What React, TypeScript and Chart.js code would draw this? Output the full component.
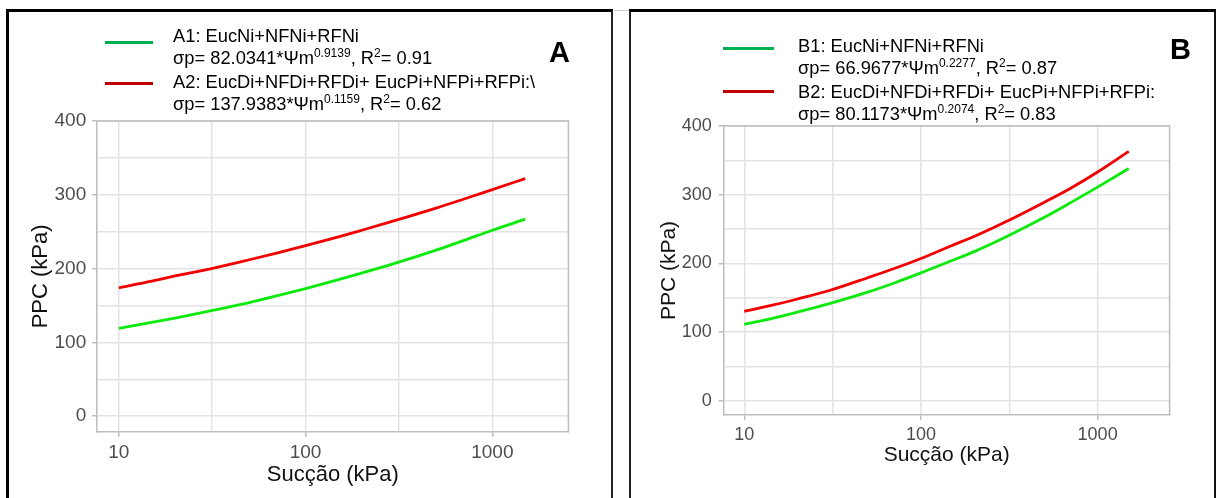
import React, { useEffect, useRef } from 'react';
import { Chart, registerables } from 'chart.js';

Chart.register(...registerables);

// Suction values (kPa) where the fitted curves are sampled
const suction = [10, 15, 20, 30, 50, 70, 100, 150, 200, 300, 500, 700, 1000, 1500];

// Panel A: pre-consolidation pressure (kPa)
const ppcA1 = [119, 127, 133, 142, 154, 163, 173, 185, 194, 207, 225, 238, 252, 267];
const ppcA2 = [174, 183, 190, 199, 212, 221, 231, 243, 252, 265, 282, 294, 307, 322];

// Panel B: pre-consolidation pressure (kPa)
const ppcB1 = [111, 121, 129, 141, 158, 171, 186, 204, 217, 238, 267, 288, 311, 338];
const ppcB2 = [130, 140, 148, 160, 179, 192, 207, 226, 239, 260, 289, 309, 333, 363];

// Axis breaks
const yBreaks = [0, 50, 100, 150, 200, 250, 300, 350, 400];
const yLabeled = [0, 100, 200, 300, 400];
const xBreaks = [10, 31.6228, 100, 316.228, 1000];
const xLabeled = [10, 100, 1000];

const xLimits = [7.66, 2555];
const yLimits = [-21, 400];

const legendA = {
  letter: 'A',
  rows: [
    { id: 'A1', name: 'EucNi+NFNi+RFNi', coef: '82.0341', exp: '0.9139', r2: '0.91' },
    { id: 'A2', name: 'EucDi+NFDi+RFDi+ EucPi+NFPi+RFPi:\\', coef: '137.9383', exp: '0.1159', r2: '0.62' },
  ],
};
const legendB = {
  letter: 'B',
  rows: [
    { id: 'B1', name: 'EucNi+NFNi+RFNi', coef: '66.9677', exp: '0.2277', r2: '0.87' },
    { id: 'B2', name: 'EucDi+NFDi+RFDi+ EucPi+NFPi+RFPi:', coef: '80.1173', exp: '0.2074', r2: '0.83' },
  ],
};

const FONT = "'Liberation Sans', Arial, Helvetica, sans-serif";
const LINE_GREEN = '#0BEA0B';
const LINE_RED = '#F20000';
const KEY_GREEN = '#00B050';
const KEY_RED = '#C00000';
const GRID = '#E3E3E3';
const AXIS = '#BDBDBD';
const TICK_TEXT = '#4D4D4D';

// Draws the top and right edges of the plotting panel
const panelFrame = {
  id: 'panelFrame',
  beforeDatasetsDraw(chart: any) {
    const { ctx, chartArea } = chart;
    const { left, top, right, bottom } = chartArea;
    ctx.save();
    ctx.strokeStyle = AXIS;
    ctx.lineWidth = 1.5;
    ctx.beginPath();
    ctx.moveTo(left, top);
    ctx.lineTo(right, top);
    ctx.lineTo(right, bottom);
    ctx.stroke();
    ctx.restore();
  },
};

type Geometry = {
  left: number;
  top: number;
  width: number;
  height: number;
  padTop: number;
  padRight: number;
  yAxisWidth: number;
  xAxisHeight: number;
  tickSize: number;
  titleSize: number;
  yTickPad: number;
  xTickPad: number;
  yTitlePad: number;
  xTitlePad: number;
};

function PlotCanvas({ geo, green, red, labels }: { geo: Geometry; green: number[]; red: number[]; labels: string[] }) {
  const ref = useRef<HTMLCanvasElement | null>(null);

  useEffect(() => {
    if (!ref.current) return;
    const tickFont = { family: FONT, size: geo.tickSize };
    const titleFont = { family: FONT, size: geo.titleSize };
    const chart = new Chart(ref.current, {
      type: 'line',
      data: {
        datasets: [
          {
            label: labels[0],
            data: suction.map((x, i) => ({ x, y: green[i] })),
            borderColor: LINE_GREEN,
            borderWidth: 2.8,
            pointRadius: 0,
            cubicInterpolationMode: 'monotone',
          },
          {
            label: labels[1],
            data: suction.map((x, i) => ({ x, y: red[i] })),
            borderColor: LINE_RED,
            borderWidth: 2.8,
            pointRadius: 0,
            cubicInterpolationMode: 'monotone',
          },
        ],
      },
      options: {
        animation: false,
        responsive: false,
        maintainAspectRatio: false,
        devicePixelRatio: 1,
        layout: { padding: { top: geo.padTop, right: geo.padRight, left: 0, bottom: 0 } },
        plugins: {
          legend: { display: false },
          tooltip: { enabled: false },
        },
        scales: {
          x: {
            type: 'logarithmic',
            min: xLimits[0],
            max: xLimits[1],
            afterBuildTicks: (axis: any) => {
              axis.ticks = xBreaks.map((v) => ({ value: v }));
            },
            afterFit: (axis: any) => {
              axis.height = geo.xAxisHeight;
            },
            ticks: {
              autoSkip: false,
              maxRotation: 0,
              minRotation: 0,
              padding: geo.xTickPad,
              color: TICK_TEXT,
              font: tickFont,
              callback: (v: any) => (xLabeled.includes(Number(v)) ? String(v) : ''),
            },
            grid: {
              color: GRID,
              lineWidth: 1.5,
              tickLength: 5,
              tickColor: (c: any) => (c.tick && xLabeled.includes(c.tick.value) ? AXIS : 'rgba(0,0,0,0)'),
            },
            border: { display: true, color: AXIS, width: 1.5 },
            title: {
              display: true,
              text: 'Sucção (kPa)',
              color: '#111',
              font: titleFont,
              padding: { top: 0, bottom: geo.xTitlePad },
            },
          },
          y: {
            type: 'linear',
            min: yLimits[0],
            max: yLimits[1],
            afterBuildTicks: (axis: any) => {
              axis.ticks = yBreaks.map((v) => ({ value: v }));
            },
            afterFit: (axis: any) => {
              axis.width = geo.yAxisWidth;
            },
            ticks: {
              autoSkip: false,
              padding: geo.yTickPad,
              color: TICK_TEXT,
              font: tickFont,
              callback: (v: any) => (yLabeled.includes(Number(v)) ? String(v) : ''),
            },
            grid: {
              color: GRID,
              lineWidth: 1.5,
              tickLength: 5,
              tickColor: (c: any) => (c.tick && yLabeled.includes(c.tick.value) ? AXIS : 'rgba(0,0,0,0)'),
            },
            border: { display: true, color: AXIS, width: 1.5 },
            title: {
              display: true,
              text: 'PPC (kPa)',
              color: '#111',
              font: titleFont,
              padding: { top: geo.yTitlePad, bottom: 0 },
            },
          },
        },
      },
      plugins: [panelFrame],
    } as any);
    return () => chart.destroy();
  }, []);

  return (
    <canvas
      ref={ref}
      width={geo.width}
      height={geo.height}
      style={{ position: 'absolute', left: geo.left, top: geo.top, width: geo.width, height: geo.height }}
    />
  );
}

type LegendRow = { id: string; name: string; coef: string; exp: string; r2: string };

function Sup({ children }: { children: React.ReactNode }) {
  return <span style={{ fontSize: 12, position: 'relative', top: -7 }}>{children}</span>;
}

function Legend({
  rows,
  textLeft,
  textTop,
  keyLeft,
  keyWidth,
  keyTops,
}: {
  rows: LegendRow[];
  textLeft: number;
  textTop: number;
  keyLeft: number;
  keyWidth: number;
  keyTops: number[];
}) {
  const keyColors = [KEY_GREEN, KEY_RED];
  return (
    <>
      {keyTops.map((t, i) => (
        <div
          key={i}
          style={{ position: 'absolute', left: keyLeft, top: t, width: keyWidth, height: 3, background: keyColors[i] }}
        />
      ))}
      <div
        style={{
          position: 'absolute',
          left: textLeft,
          top: textTop,
          fontFamily: FONT,
          fontSize: 18.3,
          lineHeight: '22.3px',
          color: '#000',
          whiteSpace: 'nowrap',
        }}
      >
        {rows.map((r) => (
          <React.Fragment key={r.id}>
            <div>
              {r.id}: {r.name}
            </div>
            <div>
              σp= {r.coef}*Ψm<Sup>{r.exp}</Sup>, R<Sup>2</Sup>= {r.r2}
            </div>
          </React.Fragment>
        ))}
      </div>
    </>
  );
}

const geoA: Geometry = {
  left: 9,
  top: 96,
  width: 600,
  height: 402,
  padTop: 25,
  padRight: 40.6,
  yAxisWidth: 88.2,
  xAxisHeight: 66.3,
  tickSize: 19,
  titleSize: 22,
  yTickPad: 6,
  xTickPad: 4.3,
  yTitlePad: 19,
  xTitlePad: 9.4,
};

const geoB: Geometry = {
  left: 631,
  top: 96,
  width: 582,
  height: 402,
  padTop: 30,
  padRight: 43.4,
  yAxisWidth: 92.8,
  xAxisHeight: 83,
  tickSize: 18,
  titleSize: 21,
  yTickPad: 7,
  xTickPad: 4.5,
  yTitlePad: 26,
  xTitlePad: 29.7,
};

export default function App() {
  return (
    <div
      style={{
        position: 'fixed',
        left: 0,
        top: 0,
        width: 1219,
        height: 498,
        overflow: 'hidden',
        background: '#fff',
      }}
    >
      {/* panel frames */}
      <div
        style={{
          position: 'absolute',
          left: 6,
          top: 9,
          width: 602,
          height: 520,
          borderLeft: '3px solid #000',
          borderTop: '3px solid #000',
          borderRight: '2px solid #222',
        }}
      />
      <div style={{ position: 'absolute', left: 614, top: 10, width: 15, height: 1, background: '#CCCCCC' }} />
      <div
        style={{
          position: 'absolute',
          left: 629,
          top: 9,
          width: 583,
          height: 520,
          borderLeft: '2px solid #222',
          borderTop: '3px solid #000',
          borderRight: '2px solid #111',
        }}
      />

      <PlotCanvas geo={geoA} green={ppcA1} red={ppcA2} labels={['A1', 'A2']} />
      <PlotCanvas geo={geoB} green={ppcB1} red={ppcB2} labels={['B1', 'B2']} />

      <Legend rows={legendA.rows} textLeft={173} textTop={24.5} keyLeft={105} keyWidth={48} keyTops={[40.5, 82]} />
      <Legend rows={legendB.rows} textLeft={798} textTop={34.5} keyLeft={723} keyWidth={51} keyTops={[46.5, 89.5]} />

      <div
        style={{
          position: 'absolute',
          left: 549,
          top: 38,
          fontFamily: FONT,
          fontWeight: 'bold',
          fontSize: 29,
          lineHeight: '29px',
          color: '#000',
        }}
      >
        {legendA.letter}
      </div>
      <div
        style={{
          position: 'absolute',
          left: 1170,
          top: 35,
          fontFamily: FONT,
          fontWeight: 'bold',
          fontSize: 29,
          lineHeight: '29px',
          color: '#000',
        }}
      >
        {legendB.letter}
      </div>
    </div>
  );
}
